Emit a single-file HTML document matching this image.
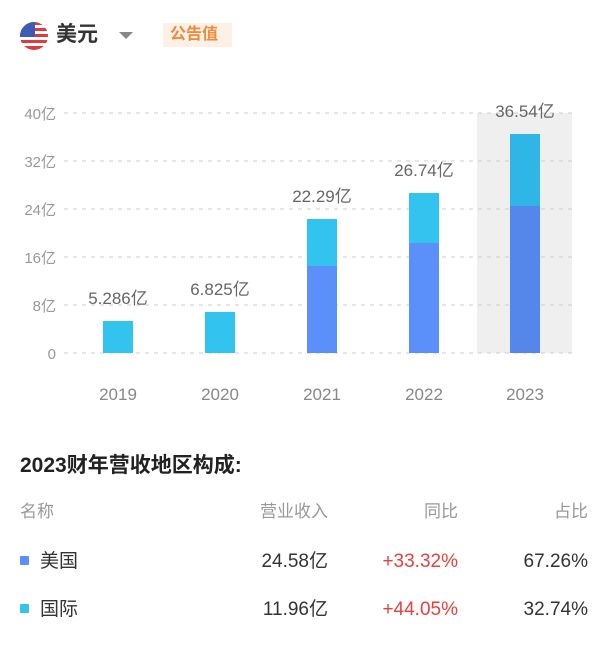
<!DOCTYPE html>
<html><head><meta charset="utf-8"><style>
body{margin:0;width:612px;height:646px;background:#fff;font-family:"Liberation Sans","Noto Sans CJK SC",sans-serif;position:relative;overflow:hidden}
.a{position:absolute;white-space:nowrap;line-height:24px;height:24px}
</style></head><body>
<svg class="a" style="left:0;top:0;height:646px" width="612" height="646">
<defs><clipPath id="c"><circle cx="34" cy="36" r="14"/></clipPath></defs>
<g clip-path="url(#c)">
<rect x="20" y="22" width="28" height="28" fill="#fff"/>
<g fill="#e0393e"><rect x="20" y="22" width="28" height="3"/><rect x="20" y="28" width="28" height="3"/><rect x="20" y="34" width="28" height="3"/><rect x="20" y="40" width="28" height="3"/><rect x="20" y="46" width="28" height="4"/></g>
<rect x="20" y="22" width="15" height="15" fill="#3b5bb5"/>
</g>
<polygon points="119,32 133,32 126,39" fill="#888"/>
<rect x="163" y="23" width="69" height="24" fill="#fdf1e6"/>
<rect x="477" y="113" width="95" height="240" fill="#efefef"/>
<g stroke="#ccc" stroke-dasharray="4,5" stroke-width="1">
<line x1="64" y1="113" x2="572" y2="113"/><line x1="64" y1="161" x2="572" y2="161"/><line x1="64" y1="209" x2="572" y2="209"/><line x1="64" y1="257" x2="572" y2="257"/><line x1="64" y1="305" x2="572" y2="305"/><line x1="64" y1="353" x2="572" y2="353"/>
</g>
<rect x="103" y="321" width="30" height="32" fill="#33c3ef"/>
<rect x="205" y="312" width="30" height="41" fill="#33c3ef"/>
<rect x="307" y="219" width="30" height="47" fill="#33c3ef"/><rect x="307" y="266" width="30" height="87" fill="#5b8ff9"/>
<rect x="409" y="193" width="30" height="50" fill="#33c3ef"/><rect x="409" y="243" width="30" height="110" fill="#5b8ff9"/>
<rect x="510" y="134" width="30" height="72" fill="#30b6e6"/><rect x="510" y="206" width="30" height="147" fill="#5586ea"/>
<g font-family="Liberation Sans,Noto Sans CJK SC,sans-serif" font-size="15" fill="#999" text-anchor="end">
<text x="56" y="119">40亿</text><text x="56" y="167">32亿</text><text x="56" y="215">24亿</text><text x="56" y="263">16亿</text><text x="56" y="311">8亿</text><text x="56" y="359">0</text>
</g>
<g font-family="Liberation Sans,Noto Sans CJK SC,sans-serif" font-size="17" fill="#666" text-anchor="middle">
<text x="118" y="304">5.286亿</text><text x="220" y="295">6.825亿</text><text x="322" y="202">22.29亿</text><text x="424" y="176">26.74亿</text><text x="525" y="117">36.54亿</text>
</g>
<g font-family="Liberation Sans,Noto Sans CJK SC,sans-serif" font-size="17" fill="#888" text-anchor="middle">
<text x="118" y="400">2019</text><text x="220" y="400">2020</text><text x="322" y="400">2021</text><text x="424" y="400">2022</text><text x="525" y="400">2023</text>
</g>
<rect x="20" y="556" width="9" height="9" rx="1" fill="#5b8ff9"/>
<rect x="20" y="604" width="9" height="9" rx="1" fill="#33c3ef"/>
</svg>
<div class="a" style="left:56px;top:23px;font-size:21px;color:#333;font-weight:bold">美元</div>
<div class="a" style="left:170px;top:23px;font-size:16px;color:#f08a3a;font-weight:bold">公告值</div>
<div class="a" style="left:20px;top:454px;font-size:21px;color:#222;font-weight:bold">2023财年营收地区构成:</div>
<div class="a" style="left:20px;top:500px;font-size:17px;color:#999">名称</div>
<div class="a" style="right:284px;top:500px;font-size:17px;color:#999">营业收入</div>
<div class="a" style="right:154px;top:500px;font-size:17px;color:#999">同比</div>
<div class="a" style="right:24px;top:500px;font-size:17px;color:#999">占比</div>
<div class="a" style="left:40px;top:550px;font-size:19px;color:#333">美国</div>
<div class="a" style="right:284px;top:550px;font-size:19px;color:#333">24.58亿</div>
<div class="a" style="right:154px;top:550px;font-size:19px;color:#e8403c">+33.32%</div>
<div class="a" style="right:24px;top:550px;font-size:19px;color:#333">67.26%</div>
<div class="a" style="left:40px;top:598px;font-size:19px;color:#333">国际</div>
<div class="a" style="right:284px;top:598px;font-size:19px;color:#333">11.96亿</div>
<div class="a" style="right:154px;top:598px;font-size:19px;color:#e8403c">+44.05%</div>
<div class="a" style="right:24px;top:598px;font-size:19px;color:#333">32.74%</div>
</body></html>
